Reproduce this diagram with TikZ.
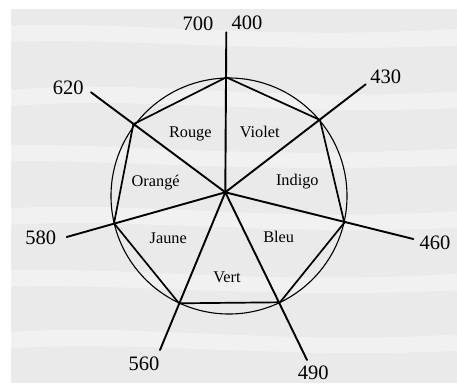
\documentclass[tikz,border=0pt]{standalone}
\usepackage{fontspec}
\setmainfont{Liberation Serif}
\definecolor{bggray}{RGB}{234,234,234}
\begin{document}
\begin{tikzpicture}[x=1pt,y=-1pt,
  spoke/.style={line width=1.9pt,line cap=round},
  edge/.style={line width=1.7pt,line join=round},
  ring/.style={line width=1.1pt},
  num/.style={inner sep=0pt,anchor=base,font=\fontsize{20.5}{24}\selectfont},
  hue/.style={inner sep=0pt,anchor=base,font=\fontsize{16.3}{19}\selectfont}]
\useasboundingbox (0,0) rectangle (457,383);
\fill[white] (0,0) rectangle (457,383);
\fill[bggray] (11,9) rectangle (457,383);
% soft white wavy bands for the cloudy texture
\begin{scope}
\clip (11,9) rectangle (457,383);
\foreach \yy/\dx in {30/0,92/40,150/-30,212/20,275/-10,335/30}{
  \fill[white,opacity=0.35] (11+\dx-60,\yy) .. controls (100+\dx,\yy-18) and (260+\dx,\yy+18) .. (520,\yy-6)
     -- (520,\yy+12) .. controls (260+\dx,\yy+30) and (100+\dx,\yy) .. (11+\dx-60,\yy+16) -- cycle;
}
\end{scope}
% geometry
\coordinate (O) at (225.3,192.3);
\coordinate (C) at (229,196);
\coordinate (v1) at (226.3,77.3);
\coordinate (v2) at (320,120);
\coordinate (v3) at (344.3,222.7);
\coordinate (v4) at (280,302.3);
\coordinate (v5) at (179,303.3);
\coordinate (v6) at (114,223.3);
\coordinate (v7) at (133.3,124.3);
\coordinate (e1) at (226.3,32.3);
\coordinate (e2) at (365.7,84.3);
\coordinate (e3) at (413.3,239);
\coordinate (e4) at (307,360);
\coordinate (e5) at (160,350);
\coordinate (e6) at (66.7,237);
\coordinate (e7) at (91,92.3);
\draw[ring] (C) circle (118);
\draw[edge] (v1) -- (v2) -- (v3) -- (v4) -- (v5) -- (v6) -- (v7) -- cycle;
\foreach \i in {1,...,7}{ \draw[spoke] (O) -- (e\i); }
% wavelength labels
\node[num] (n700) at (198,30.8) {700};
\node[num] (n400) at (247,29.8) {400};
\node[num] (n430) at (385.7,83.5) {430};
\node[num] (n460) at (435,249.5) {460};
\node[num] (n490) at (313.3,379.5) {490};
\node[num] (n560) at (144,370) {560};
\node[num] (n580) at (40.7,244.5) {580};
\node[num] (n620) at (68.3,94) {620};
% colour names
\node[hue] (rouge) at (190.3,137) {Rouge};
\node[hue] (violet) at (259.7,137) {Violet};
\node[hue] (orange) at (155.7,186) {Orangé};
\node[hue] (indigo) at (297.3,185.6) {Indigo};
\node[hue] (jaune) at (168.3,243.6) {Jaune};
\node[hue] (bleu) at (278.7,242.6) {Bleu};
\node[hue] (vert) at (227,282.6) {Vert};
\end{tikzpicture}
\end{document}
